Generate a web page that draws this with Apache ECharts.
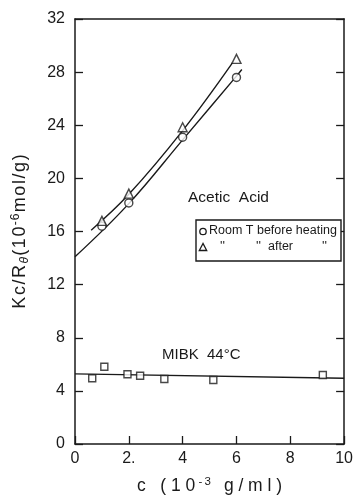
<!DOCTYPE html>
<html><head><meta charset="utf-8">
<script src="https://cdn.jsdelivr.net/npm/echarts@6/dist/echarts.min.js"></script>
<style>html,body{margin:0;padding:0;background:#fff}#c{width:356px;height:502px}</style>
</head><body><div id="c"></div>
<script>
// Data
const xTickLabels = ['0', '2.', '4', '6', '8', '10'];
const yTickLabels = ['0', '4', '8', '12', '16', '20', '24', '28', '32'];
const acetBefore = [[1, 16.4], [2, 18.15], [4, 23.1], [6, 27.6]];
const acetAfter = [[1, 16.8], [2, 18.85], [4, 23.85], [6, 29.0]];
const curveBefore = [[0, 14.1], [2, 18.1], [4, 22.9], [6, 27.7], [6.2, 28.2]];
const curveAfter = [[0.6, 16.1], [2, 18.8], [4, 23.6], [5.85, 28.7]];
const mibk = [[0.64, 4.95], [1.09, 5.82], [1.95, 5.25], [2.42, 5.14], [3.32, 4.89], [5.14, 4.82], [9.21, 5.2]];
const mibkLine = [[0, 5.28], [10, 4.95]];

const ink = '#1a1a1a';
const font = 'Liberation Sans, Arial, sans-serif';

// spaced text: each character is its own rich token so it can be letter-spaced
function spaced(parts) {
  return parts.map(([style, txt]) => txt.split('').map(ch => '{' + style + '|' + (ch === ' ' ? '\u00a0' : ch) + '}').join('')).join('');
}

const chart = echarts.init(document.getElementById('c'));
chart.setOption({
  animation: false,
  backgroundColor: '#fff',
  grid: { left: 75, right: 11, top: 19, bottom: 58 },
  xAxis: [{
    type: 'value', min: 0, max: 10, interval: 2, position: 'bottom',
    name: spaced([['n', 'c (10'], ['s', '-3'], ['n', ' g/ml)']]), nameLocation: 'middle', nameGap: 32,
    nameTextStyle: { rich: {
      n: { fontSize: 17.5, fontFamily: font, color: ink, padding: [0, 2.4] },
      s: { fontSize: 11.5, fontFamily: font, color: ink, verticalAlign: 'top', padding: [0, 1, 9, 1] } } },
    axisLine: { lineStyle: { color: ink, width: 1.5 } },
    axisTick: { inside: true, length: 8, lineStyle: { color: ink, width: 1.3 } },
    axisLabel: { fontSize: 16, fontFamily: font, color: ink, margin: 7,
      formatter: (v) => xTickLabels[Math.round(v / 2)] },
    splitLine: { show: false }
  }, {
    type: 'value', min: 0, max: 10, interval: 2, position: 'top',
    axisLine: { show: true, onZero: false, lineStyle: { color: ink, width: 1.5 } },
    axisTick: { show: false }, axisLabel: { show: false }, splitLine: { show: false }
  }],
  yAxis: [{
    type: 'value', min: 0, max: 32, interval: 4, position: 'left',
    name: spaced([['n', 'Kc/R'], ['i', 'θ'], ['n', '(10'], ['s', '-6'], ['n', 'mol/g)']]), nameLocation: 'middle', nameGap: 44,
    nameTextStyle: { rich: {
      n: { fontSize: 18, fontFamily: font, color: ink, padding: [0, 0.8] },
      i: { fontSize: 12, fontFamily: font, fontStyle: 'italic', color: ink, verticalAlign: 'bottom', padding: [7, 0.5, 0, 0.5] },
      s: { fontSize: 12, fontFamily: font, color: ink, verticalAlign: 'top', padding: [0, 0.5, 9, 0.5] } } },
    axisLine: { lineStyle: { color: ink, width: 1.5 } },
    axisTick: { inside: true, length: 8, lineStyle: { color: ink, width: 1.3 } },
    axisLabel: { fontSize: 16, fontFamily: font, color: ink, margin: 10,
      formatter: (v) => yTickLabels[Math.round(v / 4)] },
    splitLine: { show: false }
  }, {
    type: 'value', min: 0, max: 32, interval: 4, position: 'right',
    axisLine: { show: true, onZero: false, lineStyle: { color: ink, width: 1.5 } },
    axisTick: { show: true, inside: true, length: 8, lineStyle: { color: ink, width: 1.3 } },
    axisLabel: { show: false }, splitLine: { show: false }
  }],
  series: [
    { type: 'line', data: curveBefore, smooth: 0.4, showSymbol: false, lineStyle: { color: ink, width: 1.4 }, z: 2 },
    { type: 'line', data: curveAfter, smooth: 0.4, showSymbol: false, lineStyle: { color: ink, width: 1.4 }, z: 2 },
    { type: 'line', data: mibkLine, showSymbol: false, lineStyle: { color: ink, width: 1.4 }, z: 2 },
    { type: 'scatter', data: acetBefore, symbol: 'circle', symbolSize: 8,
      itemStyle: { color: '#fff', borderColor: ink, borderWidth: 1.4 }, z: 5 },
    { type: 'scatter', data: acetAfter, symbol: 'triangle', symbolSize: 9,
      itemStyle: { color: '#fff', borderColor: ink, borderWidth: 1.4 }, z: 5 },
    { type: 'scatter', data: mibk, symbol: 'rect', symbolSize: 7,
      itemStyle: { color: '#fff', borderColor: ink, borderWidth: 1.4 }, z: 5 }
  ],
  graphic: [
    { type: 'text', left: 188, top: 190, style: { text: 'Acetic  Acid', fontSize: 15.5, fontFamily: font, fill: ink } },
    { type: 'text', left: 162, top: 347, style: { text: 'MIBK  44°C', fontSize: 15, fontFamily: font, fill: ink } },
    { type: 'rect', shape: { x: 196, y: 220, width: 145, height: 41 }, style: { fill: '#fff', stroke: ink, lineWidth: 1.4 }, z: 10 },
    { type: 'circle', shape: { cx: 203, cy: 231.5, r: 3.2 }, style: { fill: '#fff', stroke: ink, lineWidth: 1.3 }, z: 11 },
    { type: 'polygon', shape: { points: [[203, 243.5], [199.3, 250.5], [206.7, 250.5]] }, style: { fill: '#fff', stroke: ink, lineWidth: 1.3 }, z: 11 },
    { type: 'text', left: 209, top: 224, z: 11, style: { text: 'Room T before heating', fontSize: 12.5, fontFamily: font, fill: ink } },
    { type: 'text', left: 220, top: 240, z: 11, style: { text: "''", fontSize: 13, fontFamily: font, fill: ink } },
    { type: 'text', left: 256, top: 240, z: 11, style: { text: "''", fontSize: 13, fontFamily: font, fill: ink } },
    { type: 'text', left: 268, top: 240, z: 11, style: { text: 'after', fontSize: 12.5, fontFamily: font, fill: ink } },
    { type: 'text', left: 322, top: 240, z: 11, style: { text: "''", fontSize: 13, fontFamily: font, fill: ink } }
  ]
});
</script></body></html>
